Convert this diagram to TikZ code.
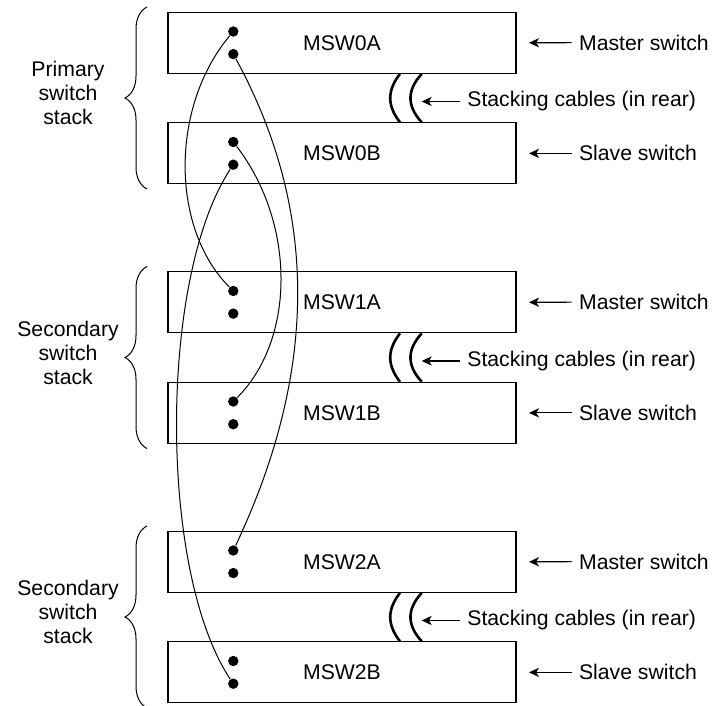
\documentclass[tikz,border=0pt]{standalone}
\usepackage{fontspec}
\setmainfont{Liberation Sans}
\usetikzlibrary{arrows.meta,decorations.pathreplacing}

\tikzset{
  swbox/.style={draw,line width=.6pt,minimum width=174pt,minimum height=30.5pt,inner sep=0pt},
  portdot/.style={circle,fill,inner sep=0pt,minimum size=5.2pt},
  sidelabel/.style={anchor=west,inner xsep=3.5pt,inner ysep=0pt},
  pointer/.style={-{Stealth[length=5pt,width=4.6pt,inset=1.4pt]},line width=.55pt},
  cable/.style={line width=.5pt},
  stackcable/.style={line width=1.3pt},
  stackbrace/.style={decorate,decoration={brace,amplitude=11pt},line width=.5pt}
}

\begin{document}
\begin{tikzpicture}[x=.5pt,y=-.5pt,font=\fontsize{10.6}{12}\selectfont]
  \useasboundingbox (0,0) rectangle (714,706);
  \foreach \i/\yy/\what in {0/0/Primary,1/259.5/Secondary,2/519/Secondary}{
    \node[swbox] (sw\i A) at (342,{42.8+\yy}) {MSW\i A};
    \node[swbox] (sw\i B) at (342,{153.4+\yy}) {MSW\i B};
    \node[portdot] (p\i A1) at (233.3,{31.5+\yy}) {};
    \node[portdot] (p\i A2) at (233.3,{54.1+\yy}) {};
    \node[portdot] (p\i B1) at (233.3,{142+\yy}) {};
    \node[portdot] (p\i B2) at (233.3,{164.7+\yy}) {};
    % stacking cables
    \draw[stackcable] ([xshift=29pt]sw\i A.south) .. controls +(-13,16.5) and +(-13,-16.5) .. ([xshift=29pt]sw\i B.north);
    \draw[stackcable] ([xshift=39.85pt]sw\i A.south) .. controls +(-15,16.5) and +(-15,-16.5) .. ([xshift=39.85pt]sw\i B.north);
    \coordinate (ct\i) at (421.7,{101.5+\yy});
    % labels on the right
    \node[sidelabel] (lm\i) at (571.7,{42.5+\yy}) {Master switch};
    \node[sidelabel] (lc\i) at (460,{101.5+\yy}) {Stacking cables (in rear)};
    \node[sidelabel] (ls\i) at (571.7,{153.4+\yy}) {Slave switch};
    \draw[pointer] (lm\i) -- ([xshift=6.2pt]sw\i A.east);
    \draw[pointer] (lc\i) -- (ct\i);
    \draw[pointer] (ls\i) -- ([xshift=6.2pt]sw\i B.east);
    % brace and stack name
    \draw[stackbrace] (147,{189+\yy}) -- (147,{7+\yy});
    \node[align=center] (st\i) at (68,{93+\yy}) {\what\\switch\\stack};
  }
  % cabling between the stacks
  \draw[cable] (p0A1) .. controls +(-63,75) and +(-63,-63) .. (p1A1);
  \draw[cable] (p0A2) .. controls +(85,156) and +(85,-180) .. (p2A1);
  \draw[cable] (p0B1) .. controls +(62.4,81.5) and +(62.4,-62.7) .. (p1B1);
  \draw[cable] (p0B2) .. controls +(-74.7,113.3) and +(-74.7,-112) .. (p2B2);
\end{tikzpicture}
\end{document}
